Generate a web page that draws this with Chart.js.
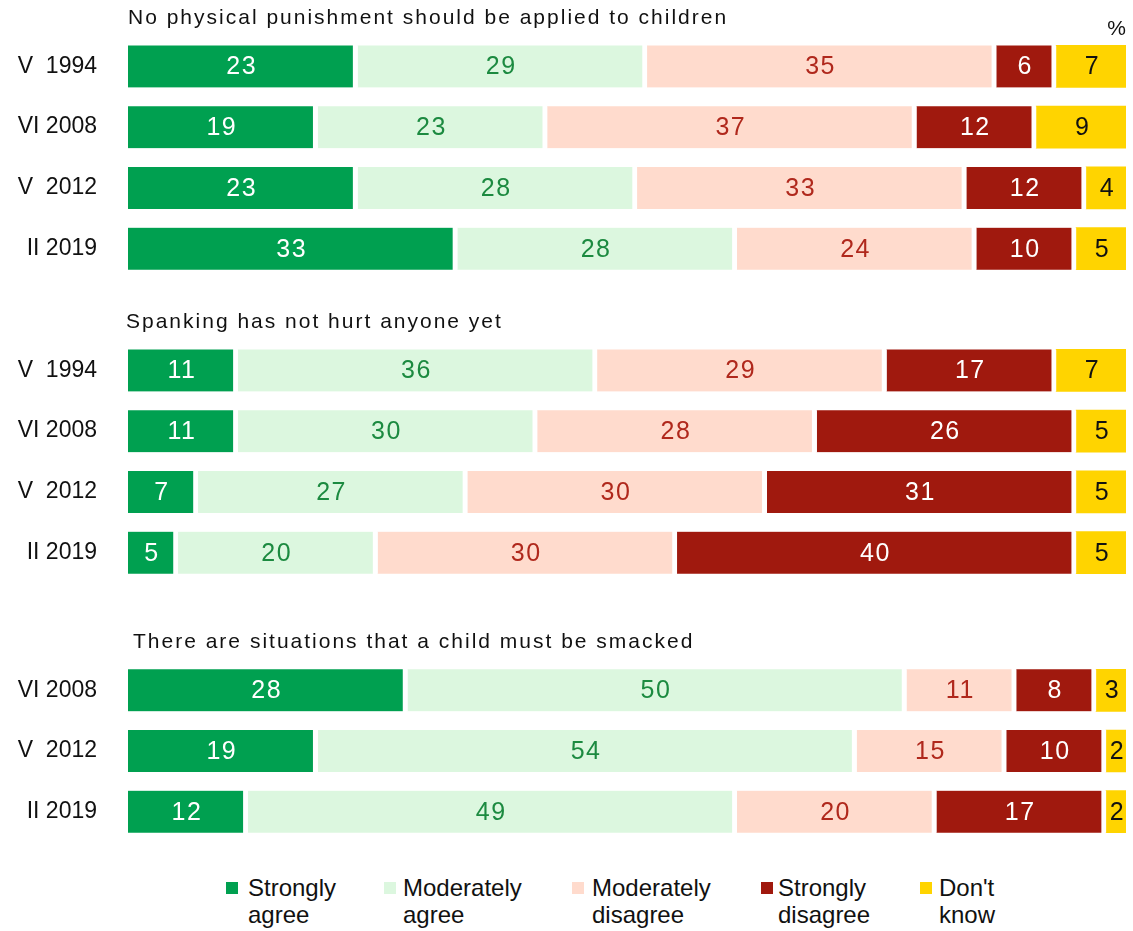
<!DOCTYPE html>
<html>
<head>
<meta charset="utf-8">
<script src="https://cdn.jsdelivr.net/npm/chart.js@4"></script>
<style>
  body { margin: 0; background: #fff; font-family: "Liberation Sans", Arial, sans-serif; }
  .wrap { position: absolute; left: 0; }
  #legend { position: absolute; top: 874px; left: 0; width: 1133px; height: 57px; }
  .item { position: absolute; top: 0; font-size: 24px; line-height: 27px; color: #111; white-space: nowrap; }
  .sw { position: absolute; width: 12px; height: 12px; top: 8px; }
</style>
</head>
<body>
<div class="wrap" style="top:0px"><canvas id="g1" width="1133" height="293"></canvas></div>
<div class="wrap" style="top:300px"><canvas id="g2" width="1133" height="297"></canvas></div>
<div class="wrap" style="top:620px"><canvas id="g3" width="1133" height="236"></canvas></div>
<div id="legend"></div>
<script>
// series names and colours
const seriesNames = ['Strongly agree', 'Moderately agree', 'Moderately disagree', 'Strongly disagree', "Don't know"];
const seriesColors = ['#00a050', '#dcf7df', '#ffdbcd', '#a0190e', '#ffd400'];
const labelColors = ['#ffffff', '#1c8a40', '#b0281c', '#ffffff', '#111111'];

const groupTitles = [
  'No physical punishment should be applied to children',
  'Spanking has not hurt anyone yet',
  'There are situations that a child must be smacked'
];

// group 1
const waves1 = ['V  1994', 'VI 2008', 'V  2012', 'II 2019'];
const noPunishStrongAgree = [23, 19, 23, 33];
const noPunishModAgree = [29, 23, 28, 28];
const noPunishModDisagree = [35, 37, 33, 24];
const noPunishStrongDisagree = [6, 12, 12, 10];
const noPunishDontKnow = [7, 9, 4, 5];

// group 2
const waves2 = ['V  1994', 'VI 2008', 'V  2012', 'II 2019'];
const spankStrongAgree = [11, 11, 7, 5];
const spankModAgree = [36, 30, 27, 20];
const spankModDisagree = [29, 28, 30, 30];
const spankStrongDisagree = [17, 26, 31, 40];
const spankDontKnow = [7, 5, 5, 5];

// group 3
const waves3 = ['VI 2008', 'V  2012', 'II 2019'];
const smackStrongAgree = [28, 19, 12];
const smackModAgree = [50, 54, 49];
const smackModDisagree = [11, 15, 20];
const smackStrongDisagree = [8, 10, 17];
const smackDontKnow = [3, 2, 2];

const GAP = 5;
const FONT = '"Liberation Sans", Arial, sans-serif';

const valueLabels = {
  id: 'valueLabels',
  afterDatasetsDraw(chart) {
    const ctx = chart.ctx;
    ctx.save();
    ctx.font = '25px ' + FONT;
    ctx.letterSpacing = '1.5px';
    ctx.textAlign = 'center';
    ctx.textBaseline = 'middle';
    chart.data.datasets.forEach((ds, i) => {
      const meta = chart.getDatasetMeta(i);
      meta.data.forEach((el, j) => {
        const right = i < 4 ? el.x - GAP : el.x;
        ctx.fillStyle = labelColors[i];
        ctx.fillText(String(ds.data[j]), (el.base + right) / 2 + 1.5, el.y + 1);
      });
    });
    ctx.restore();
  }
};

const groupTitle = {
  id: 'groupTitle',
  afterDraw(chart, args, opts) {
    const ctx = chart.ctx;
    ctx.save();
    ctx.font = '21px ' + FONT;
    ctx.letterSpacing = '2px';
    ctx.fillStyle = '#111';
    ctx.textBaseline = 'middle';
    ctx.textAlign = 'left';
    ctx.fillText(opts.text, chart.chartArea.left + opts.dx, chart.chartArea.top - 18);
    if (opts.unit) {
      ctx.letterSpacing = '0px';
      ctx.textAlign = 'right';
      ctx.fillText(opts.unit, chart.chartArea.right, chart.chartArea.top - 7);
    }
    ctx.restore();
  }
};

function makeGroup(id, labels, series, title, dx, padTop, unit) {
  new Chart(document.getElementById(id), {
    type: 'bar',
    data: {
      labels: labels,
      datasets: series.map((vals, i) => ({
        label: seriesNames[i],
        data: vals,
        backgroundColor: seriesColors[i],
        borderColor: '#ffffff',
        borderWidth: i < 4 ? { right: GAP, left: 0, top: 0, bottom: 0 } : 0,
        borderSkipped: false,
        barThickness: 42
      }))
    },
    options: {
      indexAxis: 'y',
      responsive: false,
      animation: false,
      layout: { padding: { top: padTop, right: 7, left: 0, bottom: 14 } },
      scales: {
        x: { stacked: true, min: 0, max: 100, display: false },
        y: {
          stacked: true,
          grid: { display: false, drawTicks: true, tickLength: 31 },
          border: { display: false },
          ticks: { color: '#111', padding: 0, font: { family: FONT, size: 23 } },
          afterFit(scale) { scale.width = 128; }
        }
      },
      plugins: {
        legend: { display: false },
        tooltip: { enabled: false },
        groupTitle: { text: title, dx: dx, unit: unit }
      }
    },
    plugins: [valueLabels, groupTitle]
  });
}

makeGroup('g1', waves1,
  [noPunishStrongAgree, noPunishModAgree, noPunishModDisagree, noPunishStrongDisagree, noPunishDontKnow],
  groupTitles[0], 0, 36, '%');
makeGroup('g2', waves2,
  [spankStrongAgree, spankModAgree, spankModDisagree, spankStrongDisagree, spankDontKnow],
  groupTitles[1], -2, 40, '');
makeGroup('g3', waves3,
  [smackStrongAgree, smackModAgree, smackModDisagree, smackStrongDisagree, smackDontKnow],
  groupTitles[2], 5, 40, '');

// html legend, two-line labels
const legendBoxX = [226, 384, 572, 761, 920];
const legendTextX = [248, 403, 592, 778, 939];
const legendText = [['Strongly', 'agree'], ['Moderately', 'agree'], ['Moderately', 'disagree'], ['Strongly', 'disagree'], ["Don't", 'know']];
const legend = document.getElementById('legend');
seriesNames.forEach((name, i) => {
  const box = document.createElement('span');
  box.className = 'sw';
  box.style.left = legendBoxX[i] + 'px';
  box.style.background = seriesColors[i];
  legend.appendChild(box);
  const txt = document.createElement('div');
  txt.className = 'item';
  txt.style.left = legendTextX[i] + 'px';
  txt.innerHTML = legendText[i].join('<br>');
  legend.appendChild(txt);
});
</script>
</body>
</html>
